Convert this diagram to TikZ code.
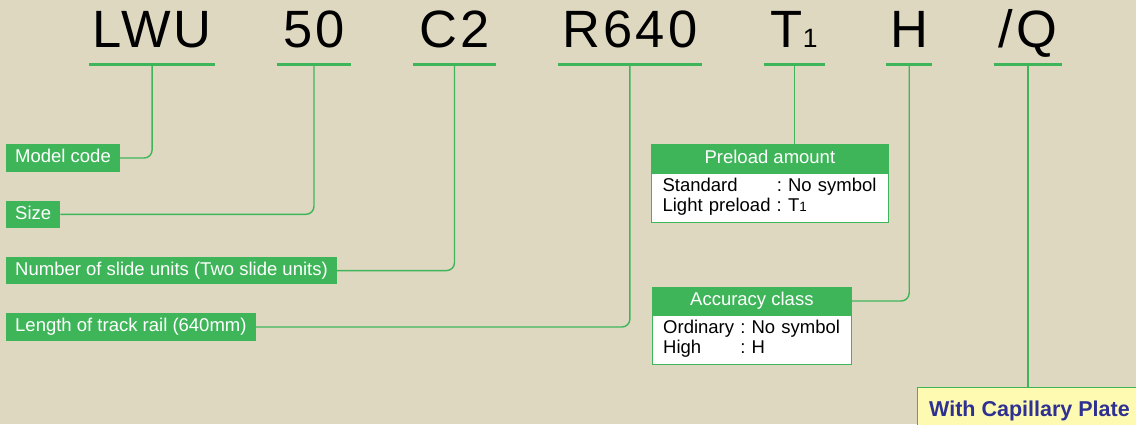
\documentclass[tikz,border=0pt]{standalone}
\usepackage{fontspec}
\setmainfont{Liberation Sans}
\newfontfamily\codefont[LetterSpace=6]{Liberation Sans}
\usetikzlibrary{positioning}
\definecolor{partgreen}{RGB}{63,181,89}
\definecolor{paper}{RGB}{222,216,193}
\definecolor{notefill}{RGB}{255,250,178}
\definecolor{noteblue}{RGB}{46,49,146}

\begin{document}
\begin{tikzpicture}[x=1pt,y=-1pt,
  code/.style={font=\codefont\fontsize{52.5}{52.5}\selectfont, anchor=base, text depth=0pt, inner xsep=0pt, inner ysep=17pt},
  bar/.style={partgreen, line width=3pt},
  link/.style={partgreen, line width=1.4pt, rounded corners=8pt},
  label/.style={fill=partgreen, text=white, font=\fontsize{18.5}{20}\selectfont, anchor=west, minimum height=27.4pt, inner xsep=9pt, inner ysep=0pt, text height=13.5pt, text depth=3.7pt},
  head/.style={label, anchor=north west, inner xsep=0pt, draw=partgreen, line width=1pt},
  body/.style={fill=white, draw=partgreen, line width=1pt, font=\fontsize{18.5}{20}\selectfont, align=left, inner xsep=11pt, inner ysep=4.5pt}
]
\fill[paper] (0,0) rectangle (1136,424);
\useasboundingbox (0,0) rectangle (1136,424);

\node[code, minimum width=125.7pt] (lwu) at (152.1,47.7) {LWU};
\node[code, minimum width=74pt] (c50) at (314,47.7) {50};
\node[code, minimum width=81.8pt] (c2) at (454.5,47.7) {C2};
\node[code, minimum width=143.8pt] (r640) at (629.9,47.7) {R640};
\node[code, minimum width=60.6pt] (t1) at (794.2,47.7) {T{\fontsize{26.5}{26.5}\selectfont 1}};
\node[code, minimum width=46pt] (h) at (909.2,47.7) {H};
\node[code, minimum width=68.3pt] (q) at (1028,47.7) {/Q};

\draw[bar] (lwu.south west) -- (lwu.south east);
\draw[bar] (c50.south west) -- (c50.south east);
\draw[bar] (c2.south west) -- (c2.south east);
\draw[bar] (r640.south west) -- (r640.south east);
\draw[bar] (t1.south west) -- (t1.south east);
\draw[bar] (h.south west) -- (h.south east);
\draw[bar] (q.south west) -- (q.south east);

\node[label] (model) at (6,158) {Model code};
\node[label] (size) at (6,214.3) {Size};
\node[label] (units) at (6,270.6) {Number of slide units (Two slide units)};
\node[label] (length) at (6,327) {Length of track rail (640mm)};

\node[head, minimum width=236.6pt] (prehead) at (651.1,144.3) {Preload amount};
\node[body, text width=214.6pt, below=0pt of prehead] (prebody)
  {\begin{tabular}{@{}l@{\ :\ }l@{}}Standard & No symbol\\ Light preload & T{\fontsize{13.5}{13.5}\selectfont 1}\end{tabular}};

\node[head, minimum width=199.3pt, minimum height=26.4pt] (acchead) at (651.7,287.3) {Accuracy class};
\node[body, text width=177.3pt, below=0pt of acchead] (accbody)
  {\begin{tabular}{@{}l@{\ :\ }l@{}}Ordinary & No symbol\\ High & H\end{tabular}};

\node[fill=notefill, draw=partgreen, line width=1pt, text=noteblue, font=\bfseries\fontsize{21.5}{22}\selectfont,
  anchor=north west, inner xsep=12pt, inner ysep=12.9pt, text height=15.5pt, text depth=0pt] (capil) at (916.7,387.3) {With Capillary Plate};

\draw[link] (model.east) -| (lwu.south);
\draw[link] (size.east) -| (c50.south);
\draw[link] (units.east) -| (c2.south);
\draw[link] (length.east) -| (r640.south);
\draw[link] (t1.south) -- (t1.south |- prehead.north);
\draw[link] (acchead.east) -| (h.south);
\draw[link] (q.south) -- (q.south |- capil.north);
\end{tikzpicture}
\end{document}
